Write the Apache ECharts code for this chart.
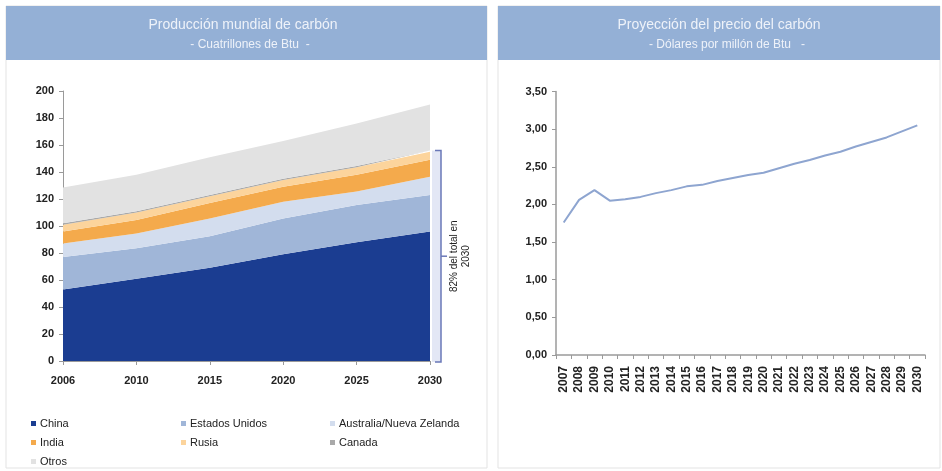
<!DOCTYPE html>
<html>
<head>
<meta charset="utf-8">
<script src="https://cdn.jsdelivr.net/npm/echarts/dist/echarts.min.js"></script>
<style>
html,body{margin:0;padding:0;background:#fff;}
#c{width:942px;height:471px;}
</style>
</head>
<body>
<div id="c"></div>
<script>
// ---- Data: left chart (Cuatrillones de Btu, stacked) ----
var prodYears = ['2006', '2010', '2015', '2020', '2025', '2030'];
var china = [53, 61, 69, 79, 88, 96];
var estadosUnidos = [24, 22.5, 23.5, 26.5, 27.5, 27];
var australiaNZ = [10, 11, 13, 12.5, 10, 13.5];
var india = [9, 10, 11.5, 11, 12.5, 12.5];
var rusia = [5, 5.5, 5, 5, 5.5, 6];
var canada = [1, 1, 1, 1, 1, 1];
var otros = [26.5, 27, 28, 28, 31.5, 34];
var prodTicks = [0, 20, 40, 60, 80, 100, 120, 140, 160, 180, 200];
var bracketTop = 156; // 82% del total en 2030

// ---- Data: right chart (Dólares por millón de Btu) ----
var priceYears = ['2007','2008','2009','2010','2011','2012','2013','2014','2015','2016','2017','2018',
                  '2019','2020','2021','2022','2023','2024','2025','2026','2027','2028','2029','2030'];
var price = [1.76, 2.06, 2.19, 2.05, 2.07, 2.10, 2.15, 2.19, 2.24, 2.26, 2.31, 2.35,
             2.39, 2.42, 2.48, 2.54, 2.59, 2.65, 2.70, 2.77, 2.83, 2.89, 2.97, 3.05];
var priceTicks = ['0,00','0,50','1,00','1,50','2,00','2,50','3,00','3,50'];

var seriesDefs = [
  {name: 'China', data: china, color: '#1b3d91'},
  {name: 'Estados Unidos', data: estadosUnidos, color: '#a0b6d8'},
  {name: 'Australia/Nueva Zelanda', data: australiaNZ, color: '#d3ddee'},
  {name: 'India', data: india, color: '#f4aa4c'},
  {name: 'Rusia', data: rusia, color: '#fcd49c'},
  {name: 'Canada', data: canada, color: '#a9a9a9'},
  {name: 'Otros', data: otros, color: '#e2e2e2'}
];

var FONT = '"Liberation Sans", Arial, sans-serif';
var chart = echarts.init(document.getElementById('c'), null, {renderer: 'canvas'});

var legendPos = {
  'China': [26, 413], 'Estados Unidos': [176, 413], 'Australia/Nueva Zelanda': [325, 413],
  'India': [26, 432], 'Rusia': [176, 432], 'Canada': [325, 432],
  'Otros': [26, 451]
};
var legends = seriesDefs.map(function (s) {
  return {
    data: [s.name], left: legendPos[s.name][0], top: legendPos[s.name][1],
    itemWidth: 5, itemHeight: 5, itemGap: 0, icon: 'rect',
    selectedMode: false,
    textStyle: {fontFamily: FONT, fontSize: 11, color: '#222', padding: [0, 0, 0, -1]}
  };
});

var axisLabelStyle = {fontFamily: FONT, fontSize: 11, fontWeight: 'bold', color: '#222'};

var option = {
  animation: false,
  backgroundColor: '#fff',
  legend: legends,
  grid: [
    {left: 63, right: 512, top: 91, bottom: 110},
    {left: 556, right: 17, top: 91.5, bottom: 116}
  ],
  xAxis: [
    {
      gridIndex: 0, type: 'category', data: prodYears, boundaryGap: false,
      axisLine: {lineStyle: {color: '#9a9a9a', width: 1}},
      axisTick: {show: true, length: 4, lineStyle: {color: '#9a9a9a'}},
      axisLabel: Object.assign({margin: 14}, axisLabelStyle),
      splitLine: {show: false}
    },
    {
      gridIndex: 1, type: 'category', data: priceYears, boundaryGap: true,
      axisLine: {lineStyle: {color: '#9a9a9a', width: 1.5}},
      axisTick: {show: true, length: 4, alignWithLabel: false, lineStyle: {color: '#9a9a9a'}},
      axisLabel: Object.assign({margin: 11, rotate: 90, interval: 0}, axisLabelStyle, {fontSize: 12}),
      splitLine: {show: false}
    }
  ],
  yAxis: [
    {
      gridIndex: 0, type: 'value', min: prodTicks[0], max: prodTicks[prodTicks.length - 1],
      interval: prodTicks[1] - prodTicks[0],
      axisLine: {show: true, lineStyle: {color: '#9a9a9a'}},
      axisTick: {show: true, length: 4, lineStyle: {color: '#9a9a9a'}},
      axisLabel: Object.assign({margin: 9}, axisLabelStyle),
      splitLine: {show: false}
    },
    {
      gridIndex: 1, type: 'value', min: 0, max: 3.5, interval: 0.5,
      axisLine: {show: true, lineStyle: {color: '#9a9a9a', width: 1.5}},
      axisTick: {show: true, length: 4, lineStyle: {color: '#9a9a9a'}},
      axisLabel: Object.assign({
        margin: 9,
        formatter: function (v) { return priceTicks[Math.round(v / 0.5)]; }
      }, axisLabelStyle),
      splitLine: {show: false}
    }
  ],
  series: seriesDefs.map(function (s) {
    return {
      name: s.name, type: 'line', xAxisIndex: 0, yAxisIndex: 0, stack: 'total',
      data: s.data, symbol: 'none', color: s.color,
      lineStyle: {width: 0}, areaStyle: {color: s.color, opacity: 1}
    };
  }).concat([{
    name: 'Precio', type: 'line', xAxisIndex: 1, yAxisIndex: 1, data: price,
    symbol: 'none', color: '#8ea5d0', lineStyle: {width: 2, color: '#8ea5d0'}
  }])
};
chart.setOption(option);

// Panels, headers and the 82% bracket, positioned from the chart's own scales
var p0 = chart.convertToPixel({xAxisIndex: 0, yAxisIndex: 0}, [prodYears.length - 1, bracketTop]);
var p1 = chart.convertToPixel({xAxisIndex: 0, yAxisIndex: 0}, [prodYears.length - 1, 0]);
var bx = p0[0] + 11, by0 = p0[1], by1 = p1[1] + 1, bmid = (by0 + by1) / 2;

chart.setOption({
  graphic: [
    {type: 'rect', shape: {x: 6, y: 6, width: 481, height: 462}, style: {fill: 'none', stroke: '#e3e3e3', lineWidth: 1}, z: -1},
    {type: 'rect', shape: {x: 498, y: 6, width: 442, height: 462}, style: {fill: 'none', stroke: '#e3e3e3', lineWidth: 1}, z: -1},
    {type: 'rect', shape: {x: 6, y: 6, width: 481, height: 54}, style: {fill: '#94b0d6'}},
    {type: 'rect', shape: {x: 498, y: 6, width: 442, height: 54}, style: {fill: '#94b0d6'}},
    {type: 'text', x: 243, y: 25, style: {text: 'Producción mundial de carbón', fill: '#eef2f9', font: '14px ' + FONT, textAlign: 'center', textVerticalAlign: 'middle'}},
    {type: 'text', x: 250, y: 45, style: {text: '- Cuatrillones de Btu  -', fill: '#eef2f9', font: '12px ' + FONT, textAlign: 'center', textVerticalAlign: 'middle'}},
    {type: 'text', x: 719, y: 25, style: {text: 'Proyección del precio del carbón', fill: '#eef2f9', font: '14px ' + FONT, textAlign: 'center', textVerticalAlign: 'middle'}},
    {type: 'text', x: 727, y: 45, style: {text: '- Dólares por millón de Btu   -', fill: '#eef2f9', font: '12px ' + FONT, textAlign: 'center', textVerticalAlign: 'middle'}},
    // bracket
    {type: 'rect', shape: {x: p0[0] + 2, y: by0, width: bx - p0[0] - 2, height: by1 - by0}, style: {fill: '#e3e7f5'}},
    {type: 'polyline', shape: {points: [[bx - 6, by0], [bx, by0], [bx, by1], [bx - 6, by1]]}, style: {stroke: '#6a78b8', lineWidth: 1.5, fill: 'none'}},
    {type: 'line', shape: {x1: bx, y1: bmid, x2: bx + 6, y2: bmid}, style: {stroke: '#6a78b8', lineWidth: 1.5}},
    {type: 'text', x: bx + 19, y: bmid, rotation: Math.PI / 2,
     style: {text: '82% del total en\n2030', fill: '#222', font: '10px ' + FONT, textAlign: 'center', textVerticalAlign: 'middle', lineHeight: 12}}
  ]
});
</script>
</body>
</html>
